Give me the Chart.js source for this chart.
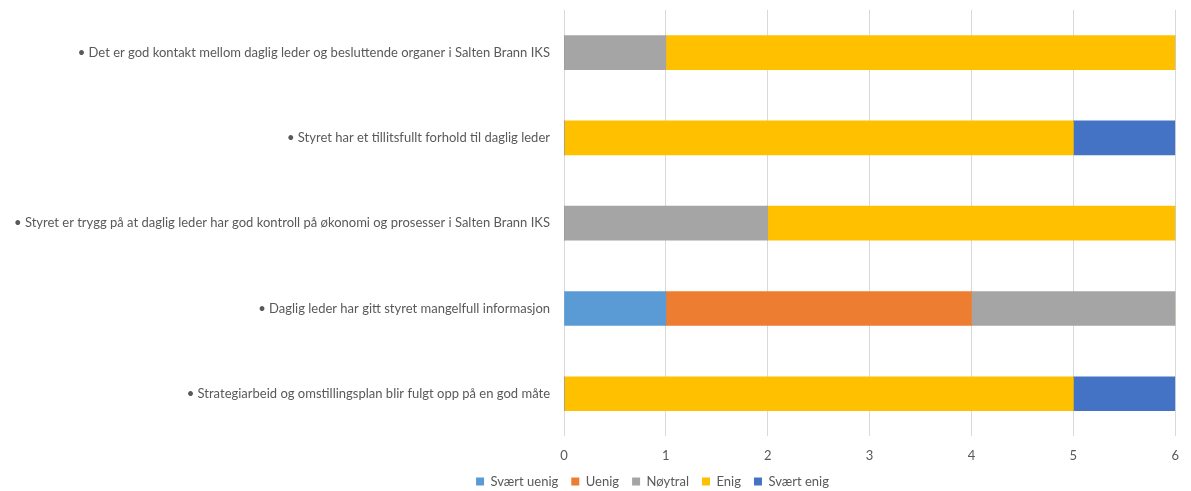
<!DOCTYPE html>
<html>
<head>
<meta charset="utf-8">
<script src="https://cdn.jsdelivr.net/npm/chart.js@4.4.0/dist/chart.umd.min.js"></script>
<style>
  html, body { margin: 0; padding: 0; background: #ffffff; }
  #wrap { width: 1191px; height: 491px; }
</style>
</head>
<body>
<div id="wrap"><canvas id="chart" width="1191" height="491"></canvas></div>
<script>
const categories = [
  '• Det er god kontakt mellom daglig leder og besluttende organer i Salten Brann IKS',
  '• Styret har et tillitsfullt forhold til daglig leder',
  '• Styret er trygg på at daglig leder har god kontroll på økonomi og prosesser i Salten Brann IKS',
  '• Daglig leder har gitt styret mangelfull informasjon',
  '• Strategiarbeid og omstillingsplan blir fulgt opp på en god måte'
];
const svaertUenig = [0, 0, 0, 1, 0];
const uenig       = [0, 0, 0, 3, 0];
const noytral     = [1, 0, 2, 2, 0];
const enig        = [5, 5, 4, 0, 5];
const svaertEnig  = [0, 1, 0, 0, 1];

const xTicks = [0, 1, 2, 3, 4, 5, 6];

const fontFamily = 'Lato, "Open Sans", sans-serif';
const textColor = '#595959';

// move the legend to where the original one sits
const legendShift = {
  id: 'legendShift',
  afterLayout(chart) {
    const lg = chart.legend;
    if (lg) {
      lg.left += 62; lg.right += 62;
      lg.top -= 14; lg.bottom -= 14;
    }
  }
};

new Chart(document.getElementById('chart'), {
  type: 'bar',
  data: {
    labels: categories,
    datasets: [
      { label: 'Svært uenig', data: svaertUenig, backgroundColor: '#5B9BD5' },
      { label: 'Uenig', data: uenig, backgroundColor: '#ED7D31' },
      { label: 'Nøytral', data: noytral, backgroundColor: '#A5A5A5' },
      { label: 'Enig', data: enig, backgroundColor: '#FFC000' },
      { label: 'Svært enig', data: svaertEnig, backgroundColor: '#4472C4' }
    ]
  },
  options: {
    indexAxis: 'y',
    responsive: false,
    animation: false,
    layout: { padding: { left: 0, right: 10, top: 10, bottom: -21 } },
    datasets: { bar: { barThickness: 34, borderWidth: 0 } },
    scales: {
      x: {
        stacked: true,
        min: 0,
        max: 6,
        afterBuildTicks: axis => { axis.ticks = xTicks.map(v => ({ value: v })); },
        grid: { color: '#D9D9D9', drawTicks: false },
        border: { display: false },
        ticks: { color: textColor, font: { family: fontFamily, size: 13 }, padding: 12 }
      },
      y: {
        stacked: true,
        afterFit: axis => {
          axis.width = 564;
          axis.paddingTop = 0;
          axis.paddingBottom = 0;
        },
        grid: { display: false, drawTicks: false },
        border: { display: false },
        ticks: { color: textColor, font: { family: fontFamily, size: 13 }, padding: 14 }
      }
    },
    plugins: {
      legend: {
        position: 'bottom',
        labels: {
          color: textColor,
          font: { family: fontFamily, size: 13 },
          boxWidth: 8,
          boxHeight: 8,
          padding: 13
        }
      },
      tooltip: { enabled: false }
    }
  },
  plugins: [legendShift]
});
</script>
</body>
</html>
